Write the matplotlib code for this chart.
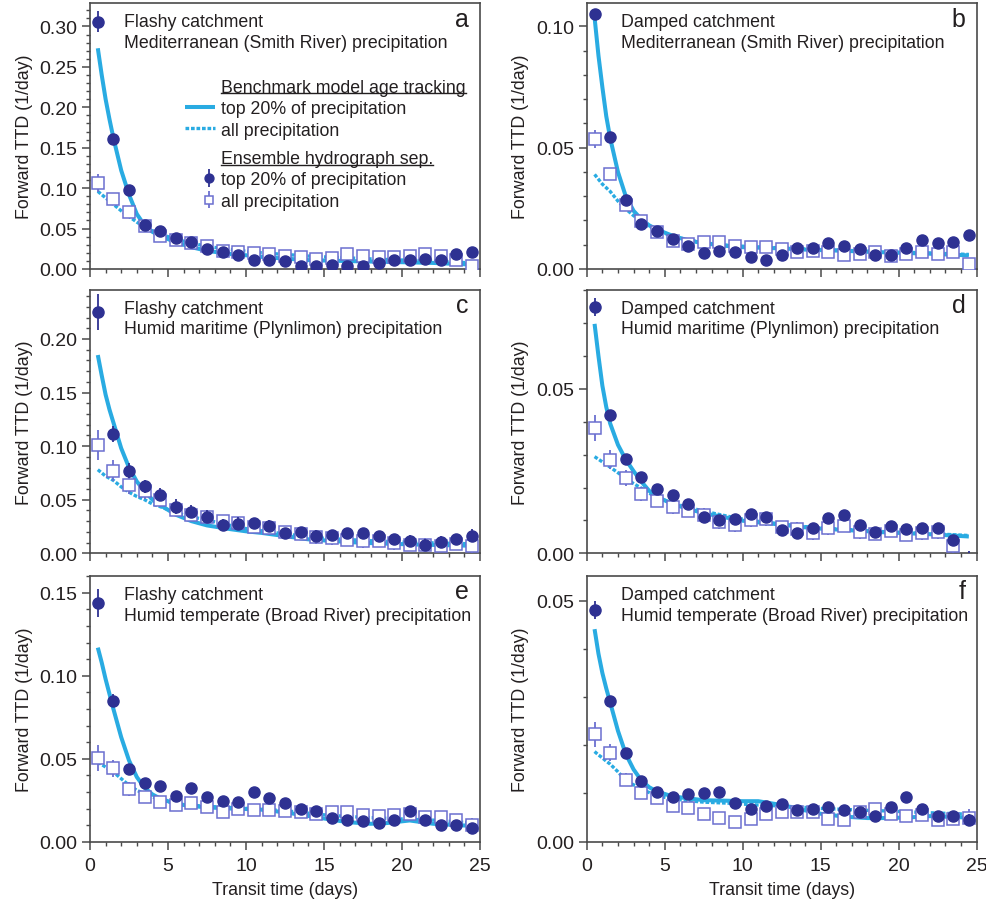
import matplotlib
matplotlib.use('Agg')
import matplotlib.pyplot as plt
import matplotlib.ticker as mticker
from matplotlib.lines import Line2D

# ── data ────────────────────────────────────────────────────────────────────
T_POINTS = [0.5 + i for i in range(25)]
T_LINE = [0.5, 0.75, 1.0, 1.25, 1.5, 2.0, 2.5, 3.0, 3.5, 4.0, 4.5, 5.5, 6.5,
          7.5, 9.0, 10.0, 11.0, 12.5, 14.0, 15.0, 16.5, 18.0, 19.0, 20.5,
          22.0, 24.5]

# a: flashy / Mediterranean
A_TOP = [0.306, 0.161, 0.0975, 0.055, 0.0467, 0.038, 0.033, 0.0248, 0.0215,
         0.0178, 0.0116, 0.0116, 0.0095, 0.004, 0.0033, 0.0045, 0.004, 0.004,
         0.0074, 0.0116, 0.0116, 0.0128, 0.0116, 0.0186, 0.0215]
A_TOP_ERR = [0.013, 0.005, 0.003, 0.003, 0.003, 0.003, 0.003, 0.003, 0.003,
             0.003, 0.003, 0.003, 0.003, 0.003, 0.003, 0.003, 0.003, 0.003,
             0.003, 0.003, 0.003, 0.003, 0.003, 0.003, 0.004]
A_ALL = [0.1066, 0.0868, 0.0707, 0.053, 0.041, 0.0355, 0.032, 0.029, 0.022,
         0.0207, 0.0198, 0.019, 0.0157, 0.0145, 0.0128, 0.0136, 0.019, 0.0157,
         0.0145, 0.0145, 0.0165, 0.019, 0.0165, 0.0107, 0.004]
A_ALL_ERR = [0.011, 0.007, 0.005, 0.004, 0.004, 0.004, 0.004, 0.004, 0.003,
             0.003, 0.003, 0.003, 0.003, 0.003, 0.003, 0.003, 0.003, 0.003,
             0.003, 0.003, 0.003, 0.003, 0.003, 0.003, 0.004]
A_TOP_LINE = [0.273, 0.240, 0.210, 0.185, 0.162, 0.122, 0.092, 0.068, 0.054,
              0.046, 0.041, 0.033, 0.027, 0.0225, 0.0185, 0.017, 0.015, 0.0128,
              0.011, 0.0105, 0.0098, 0.0092, 0.0088, 0.0082, 0.0075, 0.0055]
A_ALL_LINE = [0.096, 0.092, 0.088, 0.084, 0.080, 0.072, 0.065, 0.058, 0.052,
              0.047, 0.043, 0.037, 0.032, 0.028, 0.024, 0.022, 0.020, 0.018,
              0.016, 0.015, 0.0138, 0.0125, 0.0118, 0.0108, 0.0098, 0.0075]

# b: damped / Mediterranean
B_TOP = [0.1051, 0.0544, 0.0284, 0.0187, 0.0156, 0.0125, 0.0094, 0.0066,
         0.0076, 0.0069, 0.005, 0.0039, 0.0056, 0.0087, 0.0087, 0.0107, 0.0094,
         0.0084, 0.0059, 0.0056, 0.0087, 0.0121, 0.0107, 0.011, 0.0142]
B_TOP_ERR = [0.002, 0.0012, 0.001, 0.001, 0.001, 0.001, 0.001, 0.001, 0.001,
             0.001, 0.001, 0.001, 0.001, 0.001, 0.001, 0.001, 0.001, 0.001,
             0.001, 0.001, 0.001, 0.001, 0.001, 0.001, 0.001]
B_ALL = [0.0537, 0.0393, 0.0262, 0.0197, 0.0152, 0.0117, 0.0103, 0.011, 0.011,
         0.0094, 0.0091, 0.0091, 0.0083, 0.0069, 0.0073, 0.007, 0.0058, 0.0061,
         0.0069, 0.0052, 0.0063, 0.007, 0.0063, 0.007, 0.0022]
B_ALL_ERR = [0.0038, 0.0025, 0.0018, 0.0015, 0.0015, 0.0015, 0.0015, 0.0015,
             0.0015, 0.0015, 0.0015, 0.0015, 0.0015, 0.0015, 0.0015, 0.0015,
             0.0015, 0.0015, 0.0015, 0.0015, 0.0015, 0.0015, 0.0015, 0.0015,
             0.0018]
B_TOP_LINE = [0.1037, 0.088, 0.075, 0.063, 0.054, 0.040, 0.030, 0.024, 0.0205,
              0.018, 0.0163, 0.0137, 0.0118, 0.0106, 0.0095, 0.009, 0.0088,
              0.0085, 0.008, 0.0078, 0.0075, 0.0071, 0.0069, 0.0066, 0.0063,
              0.0056]
B_ALL_LINE = [0.039, 0.037, 0.035, 0.0335, 0.032, 0.028, 0.0248, 0.022, 0.0198,
              0.0177, 0.016, 0.0135, 0.012, 0.0108, 0.0098, 0.0094, 0.0091,
              0.0087, 0.0082, 0.008, 0.0077, 0.0074, 0.0072, 0.0069, 0.0066,
              0.006]

# c: flashy / humid maritime
C_TOP = [0.2249, 0.1114, 0.0771, 0.0625, 0.0547, 0.0435, 0.0389, 0.0342,
         0.0267, 0.0274, 0.028, 0.0258, 0.0187, 0.0196, 0.0165, 0.0171, 0.0187,
         0.0187, 0.0159, 0.0134, 0.0118, 0.0081, 0.0109, 0.0134, 0.0165]
C_TOP_ERR = [0.017, 0.0078, 0.007, 0.006, 0.006, 0.007, 0.006, 0.006, 0.005,
             0.006, 0.005, 0.005, 0.005, 0.005, 0.005, 0.005, 0.005, 0.005,
             0.005, 0.005, 0.005, 0.005, 0.005, 0.005, 0.006]
C_ALL = [0.1011, 0.0771, 0.0638, 0.0579, 0.0498, 0.0404, 0.0358, 0.0336,
         0.0299, 0.0283, 0.0249, 0.0233, 0.0196, 0.018, 0.0149, 0.014, 0.0124,
         0.0112, 0.0118, 0.0093, 0.0078, 0.0078, 0.0072, 0.0087, 0.0065]
C_ALL_ERR = [0.0143, 0.01, 0.0085, 0.007, 0.0065, 0.006, 0.006, 0.006, 0.006,
             0.006, 0.006, 0.006, 0.006, 0.006, 0.006, 0.006, 0.006, 0.006,
             0.006, 0.006, 0.006, 0.006, 0.006, 0.006, 0.007]
C_TOP_LINE = [0.185, 0.166, 0.148, 0.134, 0.122, 0.098, 0.080, 0.067, 0.058,
              0.050, 0.045, 0.036, 0.030, 0.026, 0.0225, 0.0205, 0.019, 0.016,
              0.013, 0.012, 0.0105, 0.0095, 0.009, 0.0083, 0.0078, 0.007]
C_ALL_LINE = [0.078, 0.075, 0.072, 0.070, 0.068, 0.062, 0.057, 0.053, 0.050,
              0.046, 0.0435, 0.038, 0.034, 0.031, 0.026, 0.023, 0.021, 0.018,
              0.0155, 0.014, 0.0128, 0.0117, 0.0111, 0.0103, 0.0097, 0.0088]

# d: damped / humid maritime
D_TOP = [0.075, 0.0421, 0.0287, 0.0233, 0.0196, 0.0177, 0.015, 0.011, 0.0102,
         0.0104, 0.012, 0.0111, 0.0071, 0.0061, 0.0077, 0.0106, 0.0116, 0.0086,
         0.0066, 0.0082, 0.0074, 0.0076, 0.0077, 0.0041, -0.003]
D_TOP_ERR = [0.0027, 0.0015, 0.0015, 0.0015, 0.0015, 0.0015, 0.0015, 0.0015,
             0.0015, 0.0015, 0.0015, 0.0015, 0.0015, 0.0015, 0.0015, 0.0015,
             0.0015, 0.0015, 0.0015, 0.0015, 0.0015, 0.0015, 0.0015, 0.0015,
             0.0038]
D_ALL = [0.0381, 0.0285, 0.0229, 0.018, 0.016, 0.014, 0.013, 0.0117, 0.0094,
         0.0086, 0.0101, 0.0103, 0.0079, 0.0074, 0.0061, 0.0076, 0.0084, 0.0064,
         0.0059, 0.0069, 0.0056, 0.0061, 0.0064, 0.0021, -0.004]
D_ALL_ERR = [0.004, 0.003, 0.0025, 0.0022, 0.002, 0.002, 0.002, 0.002, 0.002,
             0.002, 0.002, 0.002, 0.002, 0.002, 0.002, 0.002, 0.002, 0.002,
             0.002, 0.002, 0.002, 0.002, 0.002, 0.002, 0.002]
D_TOP_LINE = [0.0698, 0.060, 0.051, 0.0445, 0.0395, 0.033, 0.0285, 0.025,
              0.0218, 0.019, 0.0172, 0.015, 0.0135, 0.0122, 0.0108, 0.0099,
              0.0094, 0.0087, 0.0079, 0.0075, 0.0071, 0.0067, 0.0064, 0.0061,
              0.0058, 0.0051]
D_ALL_LINE = [0.0294, 0.0286, 0.0278, 0.027, 0.0262, 0.0245, 0.0228, 0.0212,
              0.0198, 0.0183, 0.017, 0.0152, 0.014, 0.0128, 0.0113, 0.0104,
              0.0097, 0.0089, 0.0081, 0.0077, 0.0073, 0.0068, 0.0066, 0.0063,
              0.006, 0.0054]

# e: flashy / humid temperate
E_TOP = [0.1438, 0.0851, 0.0438, 0.0352, 0.0338, 0.0273, 0.0322, 0.0267,
         0.0243, 0.0241, 0.0298, 0.0261, 0.0233, 0.0197, 0.0183, 0.0143, 0.0131,
         0.0123, 0.0113, 0.0133, 0.0187, 0.0131, 0.0103, 0.0103, 0.008]
E_TOP_ERR = [0.0083, 0.0037, 0.002, 0.002, 0.002, 0.002, 0.002, 0.002, 0.002,
             0.002, 0.002, 0.002, 0.002, 0.002, 0.002, 0.002, 0.002, 0.002,
             0.002, 0.002, 0.002, 0.002, 0.002, 0.002, 0.003]
E_ALL = [0.0505, 0.0442, 0.0318, 0.0267, 0.0237, 0.0223, 0.0231, 0.0207,
         0.0177, 0.0197, 0.0193, 0.0193, 0.0187, 0.0177, 0.0167, 0.0177, 0.0177,
         0.0161, 0.0157, 0.0161, 0.0167, 0.0147, 0.0147, 0.0133, 0.0101]
E_ALL_ERR = [0.0077, 0.005, 0.004, 0.0035, 0.003, 0.003, 0.003, 0.003, 0.003,
             0.003, 0.003, 0.003, 0.003, 0.003, 0.003, 0.003, 0.003, 0.003,
             0.003, 0.003, 0.003, 0.003, 0.003, 0.003, 0.004]
E_TOP_LINE = [0.117, 0.108, 0.098, 0.089, 0.080, 0.063, 0.049, 0.039, 0.0325,
              0.0285, 0.026, 0.0228, 0.0215, 0.0207, 0.020, 0.0197, 0.0193,
              0.0177, 0.0155, 0.014, 0.0118, 0.0108, 0.0112, 0.0128, 0.0108,
              0.0095]
E_ALL_LINE = [0.048, 0.0465, 0.045, 0.0435, 0.042, 0.038, 0.034, 0.031, 0.0288,
              0.027, 0.0253, 0.0228, 0.022, 0.0213, 0.0206, 0.0201, 0.0196,
              0.0187, 0.0172, 0.0162, 0.0152, 0.0145, 0.0141, 0.0135, 0.013,
              0.0113]

# f: damped / humid temperate
F_TOP = [0.0481, 0.0291, 0.0184, 0.0125, 0.0104, 0.0092, 0.0099, 0.01, 0.0104,
         0.008, 0.0068, 0.0073, 0.0078, 0.0066, 0.0068, 0.0071, 0.0066, 0.0062,
         0.0054, 0.0071, 0.0093, 0.0068, 0.0054, 0.0054, 0.0046]
F_TOP_ERR = [0.0018, 0.0008, 0.0008, 0.0008, 0.0008, 0.0008, 0.0008, 0.0008,
             0.0008, 0.0008, 0.0008, 0.0008, 0.0008, 0.0008, 0.0008, 0.0008,
             0.0008, 0.0008, 0.0008, 0.0008, 0.0008, 0.0008, 0.0008, 0.0008,
             0.0012]
F_ALL = [0.0223, 0.0185, 0.0129, 0.01, 0.009, 0.0075, 0.0069, 0.0057, 0.005,
         0.0041, 0.0047, 0.0057, 0.0061, 0.0062, 0.0062, 0.0047, 0.0046, 0.0061,
         0.0068, 0.0057, 0.0054, 0.0055, 0.0044, 0.0048, 0.005]
F_ALL_ERR = [0.0026, 0.0018, 0.0013, 0.0012, 0.0012, 0.0012, 0.0012, 0.0012,
             0.0012, 0.0012, 0.0012, 0.0012, 0.0012, 0.0012, 0.0012, 0.0012,
             0.0012, 0.0012, 0.0012, 0.0012, 0.0012, 0.0012, 0.0012, 0.0012,
             0.0018]
F_TOP_LINE = [0.0441, 0.039, 0.035, 0.0318, 0.0289, 0.023, 0.0182, 0.015,
              0.0127, 0.0113, 0.0104, 0.0094, 0.009, 0.0086, 0.0085, 0.0084,
              0.0084, 0.0076, 0.0065, 0.0058, 0.0052, 0.0049, 0.0049, 0.005,
              0.0053, 0.005]
F_ALL_LINE = [0.0187, 0.018, 0.0174, 0.0167, 0.0161, 0.0145, 0.0127, 0.0118,
              0.0109, 0.0102, 0.0095, 0.0089, 0.0085, 0.0082, 0.008, 0.0078,
              0.0076, 0.0074, 0.0071, 0.0069, 0.0067, 0.0065, 0.0064, 0.0062,
              0.006, 0.0057]

PANEL_LETTERS = ['a', 'b', 'c', 'd', 'e', 'f']
CATCHMENT = ['Flashy catchment', 'Damped catchment'] * 3
PRECIP = [
    'Mediterranean (Smith River) precipitation',
    'Mediterranean (Smith River) precipitation',
    'Humid maritime (Plynlimon) precipitation',
    'Humid maritime (Plynlimon) precipitation',
    'Humid temperate (Broad River) precipitation',
    'Humid temperate (Broad River) precipitation',
]
YMAX = [0.329, 0.1097, 0.246, 0.0802, 0.1604, 0.0552]

# ── style ───────────────────────────────────────────────────────────────────
CYAN = '#29ABE2'
NAVY = '#2E3192'
LILAC = '#6B6FD0'
TEXT = '#231F20'
FRAME = '#4a4a4a'
FS = 12.8

plt.rcParams.update({
    'font.family': ['Liberation Sans', 'DejaVu Sans'],
    'font.size': FS,
    'text.color': TEXT,
    'axes.labelcolor': TEXT,
    'xtick.color': FRAME,
    'ytick.color': FRAME,
    'xtick.labelcolor': TEXT,
    'ytick.labelcolor': TEXT,
})

fig = plt.figure(figsize=(9.87, 9.03), dpi=100)

LEFTS = [0.0912, 0.5945]
ROWS = [(0.701, 0.2946), (0.3862, 0.2919), (0.0668, 0.2946)]
W = 0.395

panels = [
    (A_TOP, A_TOP_ERR, A_ALL, A_ALL_ERR, A_TOP_LINE, A_ALL_LINE),
    (B_TOP, B_TOP_ERR, B_ALL, B_ALL_ERR, B_TOP_LINE, B_ALL_LINE),
    (C_TOP, C_TOP_ERR, C_ALL, C_ALL_ERR, C_TOP_LINE, C_ALL_LINE),
    (D_TOP, D_TOP_ERR, D_ALL, D_ALL_ERR, D_TOP_LINE, D_ALL_LINE),
    (E_TOP, E_TOP_ERR, E_ALL, E_ALL_ERR, E_TOP_LINE, E_ALL_LINE),
    (F_TOP, F_TOP_ERR, F_ALL, F_ALL_ERR, F_TOP_LINE, F_ALL_LINE),
]

handles = None
axes = []
for i, (top, top_err, allp, all_err, top_line, all_line) in enumerate(panels):
    row, col = divmod(i, 2)
    b, h = ROWS[row]
    ax = fig.add_axes([LEFTS[col], b, W, h])
    axes.append(ax)

    l_top, = ax.plot(T_LINE, top_line, color=CYAN, lw=2.9, zorder=2,
                     solid_capstyle='butt')
    l_all, = ax.plot(T_LINE, all_line, color=CYAN, lw=2.4, zorder=2,
                     linestyle=(0, (1.1, 0.55)))
    e_all = ax.errorbar(T_POINTS, allp, yerr=all_err, fmt='s', ms=8,
                        mfc='white', mec=LILAC, mew=1.1, ecolor=LILAC,
                        elinewidth=1.3, capsize=0, zorder=3)
    e_top = ax.errorbar(T_POINTS, top, yerr=top_err, fmt='o', ms=8,
                        mfc=NAVY, mec=NAVY, ecolor=NAVY, elinewidth=1.3,
                        capsize=0, zorder=4)
    if i == 0:
        handles = (l_top, l_all, e_top, e_all)

    ax.set_xlim(0, 25)
    ax.set_ylim(0, YMAX[i])
    ax.xaxis.set_major_locator(mticker.MultipleLocator(5))
    ax.xaxis.set_minor_locator(mticker.MultipleLocator(1))
    ax.yaxis.set_major_locator(mticker.MultipleLocator(0.05))
    ax.yaxis.set_minor_locator(mticker.MultipleLocator(0.01))
    ax.yaxis.set_major_formatter(mticker.FormatStrFormatter('%.2f'))
    ax.tick_params(which='major', direction='out', length=6, width=1.1,
                   labelsize=14, pad=3)
    ax.tick_params(axis='x', which='major', pad=5)
    ax.tick_params(which='minor', direction='out', length=3, width=1.0)
    for sp in ax.spines.values():
        sp.set_color(FRAME)
        sp.set_linewidth(1.2)

    if row == 2:
        ax.set_xlabel('Transit time (days)', fontsize=FS, labelpad=5)
    else:
        ax.tick_params(axis='x', labelbottom=False)
    ax.set_ylabel('Forward TTD (1/day)', fontsize=FS, labelpad=5)

    ax.text(0.087, 0.93, CATCHMENT[i], transform=ax.transAxes,
            ha='left', va='center', fontsize=FS)
    ax.text(0.087, 0.852, PRECIP[i], transform=ax.transAxes,
            ha='left', va='center', fontsize=FS)
    ax.text(0.972, 0.915, PANEL_LETTERS[i], transform=ax.transAxes,
            ha='right', va='baseline', fontsize=18)

# ── legends in panel a ──────────────────────────────────────────────────────
ax = axes[0]
l_top, l_all, e_top, e_all = handles
blank = Line2D([], [], linestyle='none')
leg1 = ax.legend([blank, l_top, l_all],
                 ['Benchmark model age tracking', 'top 20% of precipitation',
                  'all precipitation'],
                 loc='upper left', bbox_to_anchor=(0.2436, 0.715),
                 frameon=False, borderpad=0, borderaxespad=0,
                 handlelength=1.67, handletextpad=0.37, labelspacing=0.245,
                 fontsize=FS)
ax.add_artist(leg1)
leg2 = ax.legend([blank, e_top, e_all],
                 ['Ensemble hydrograph sep.', 'top 20% of precipitation',
                  'all precipitation'],
                 loc='upper left', bbox_to_anchor=(0.2923, 0.447),
                 frameon=False, borderpad=0, borderaxespad=0,
                 handlelength=0.6, handletextpad=0.37, labelspacing=0.245,
                 fontsize=FS, markerscale=0.8)

# underline the two legend headers
fig.canvas.draw()
renderer = fig.canvas.get_renderer()
inv = fig.transFigure.inverted()
for leg in (leg1, leg2):
    bb = leg.get_texts()[0].get_window_extent(renderer)
    (x0, y0), (x1, _) = inv.transform([(bb.x0, bb.y0 + 2.5), (bb.x1, bb.y0)])
    fig.add_artist(Line2D([x0, x1], [y0, y0], lw=1.0, color=TEXT))

fig.savefig('out.png', dpi=100)
